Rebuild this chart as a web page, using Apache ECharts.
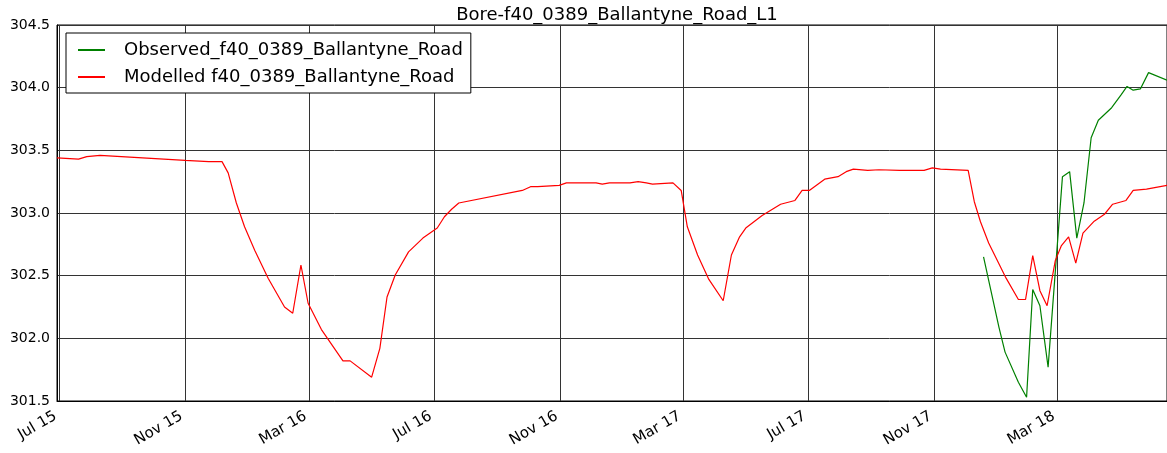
<!DOCTYPE html>
<html><head><meta charset="utf-8">
<script src="https://cdn.jsdelivr.net/npm/echarts@6/dist/echarts.min.js"></script>
<style>html,body{margin:0;padding:0;background:#fff}#c{width:1167px;height:453px}</style>
</head><body><div id="c"></div>
<script>
const chartTitle = 'Bore-f40_0389_Ballantyne_Road_L1';
const observedName = 'Observed_f40_0389_Ballantyne_Road';
const modelledName = 'Modelled f40_0389_Ballantyne_Road';

const modelledDates = [
 '2015-06-29','2015-07-20','2015-07-28','2015-08-10','2015-11-01','2015-11-24','2015-12-07','2015-12-13','2015-12-21','2015-12-29',
 '2016-01-08','2016-01-21','2016-02-06','2016-02-14','2016-02-22','2016-02-29','2016-03-13','2016-04-03','2016-04-10','2016-05-01',
 '2016-05-09','2016-05-16','2016-05-24','2016-06-06','2016-06-20','2016-07-04','2016-07-11','2016-07-18','2016-07-25','2016-09-25',
 '2016-10-03','2016-10-10','2016-10-31','2016-11-07','2016-12-06','2016-12-12','2016-12-19','2017-01-08','2017-01-16','2017-01-24',
 '2017-01-30','2017-02-19','2017-02-27','2017-03-05','2017-03-15','2017-03-26','2017-04-09','2017-04-17','2017-04-25','2017-05-01',
 '2017-05-17','2017-06-04','2017-06-18','2017-06-25','2017-07-02','2017-07-17','2017-07-30','2017-08-07','2017-08-14','2017-08-28',
 '2017-09-08','2017-09-28','2017-10-22','2017-10-30','2017-11-07','2017-12-04','2017-12-10','2017-12-16','2017-12-24','2018-01-10',
 '2018-01-22','2018-01-29','2018-02-05','2018-02-12','2018-02-19','2018-02-27','2018-03-05','2018-03-12','2018-03-19','2018-03-26',
 '2018-04-06','2018-04-16','2018-04-24','2018-05-07','2018-05-14','2018-05-27','2018-06-16'
];
const modelledValues = [
 303.44,303.43,303.45,303.46,303.42,303.41,303.41,303.32,303.08,302.89,
 302.70,302.48,302.25,302.20,302.585,302.28,302.07,301.82,301.82,301.69,
 301.92,302.33,302.505,302.69,302.80,302.88,302.97,303.03,303.08,303.18,
 303.21,303.21,303.22,303.24,303.24,303.23,303.24,303.24,303.25,303.24,
 303.23,303.24,303.18,302.89,302.665,302.47,302.30,302.665,302.81,302.88,
 302.98,303.07,303.10,303.18,303.18,303.27,303.29,303.33,303.35,303.34,
 303.345,303.34,303.34,303.36,303.35,303.34,303.09,302.93,302.76,302.48,
 302.31,302.31,302.66,302.38,302.26,302.62,302.74,302.81,302.60,302.84,
 302.935,302.99,303.07,303.10,303.18,303.19,303.22
];
const observedDates = [
 '2017-12-19','2018-01-03','2018-01-09','2018-01-22','2018-01-30','2018-02-05','2018-02-12','2018-02-20','2018-03-06','2018-03-13',
 '2018-03-20','2018-03-27','2018-04-03','2018-04-10','2018-04-23','2018-05-02','2018-05-08','2018-05-14','2018-05-21','2018-05-29',
 '2018-06-16'
];
const observedValues = [
 302.65,302.09,301.89,301.65,301.53,302.39,302.26,301.77,303.29,303.33,
 302.80,303.08,303.60,303.74,303.84,303.94,304.01,303.98,303.99,304.12,
 304.06
];
const xTickDates = ['2015-07-01','2015-11-01','2016-03-01','2016-07-01','2016-11-01','2017-03-01','2017-07-01','2017-11-01','2018-03-01'];
const monthNames = ['Jan','Feb','Mar','Apr','May','Jun','Jul','Aug','Sep','Oct','Nov','Dec'];
const yMin = 301.5, yMax = 304.5, yStep = 0.5;

function ts(s){ const p = s.split('-').map(Number); return Date.UTC(p[0], p[1]-1, p[2]); }
const xTicks = xTickDates.map(ts);
const pairs = (d, v) => d.map((s, i) => [ts(s), v[i]]);

const font = 'DejaVu Sans';
const chart = echarts.init(document.getElementById('c'), null, {renderer: 'canvas'});
chart.setOption({
  animation: false,
  backgroundColor: '#fff',
  title: {
    text: chartTitle, left: 612, textAlign: 'center', top: 1,
    textStyle: {fontFamily: font, fontSize: 18, fontWeight: 'normal', color: '#000'}
  },
  legend: {
    orient: 'vertical', left: 66, top: 33, padding: [7, 8, 6, 12], itemGap: 7,
    itemWidth: 27, itemHeight: 2, icon: 'rect',
    borderColor: '#000', borderWidth: 1, borderRadius: 0, backgroundColor: '#fff',
    textStyle: {fontFamily: font, fontSize: 18, color: '#000', padding: [0, 0, 0, 14], lineHeight: 20},
    data: [observedName, modelledName]
  },
  grid: {left: 57, right: 0, top: 25, bottom: 52, show: true, borderColor: '#000', borderWidth: 1, containLabel: false, outerBoundsMode: 'none'},
  xAxis: {
    type: 'value', min: 'dataMin', max: 'dataMax', scale: true,
    axisLine: {show: true, lineStyle: {color: '#000', width: 1}},
    axisTick: {show: false, customValues: xTicks},
    splitLine: {show: true, lineStyle: {color: '#333', width: 1}},
    axisLabel: {
      customValues: xTicks, rotate: 30, margin: 12, padding: [0, 4, 0, 0],
      fontFamily: font, fontSize: 15, color: '#000',
      formatter: v => { const d = new Date(v); return monthNames[d.getUTCMonth()] + ' ' + String(d.getUTCFullYear()).slice(2); }
    }
  },
  yAxis: {
    type: 'value', min: yMin, max: yMax, interval: yStep,
    axisLine: {show: true, lineStyle: {color: '#000', width: 1}},
    axisTick: {show: false},
    splitLine: {show: true, lineStyle: {color: '#333', width: 1}},
    axisLabel: {margin: 7, fontFamily: font, fontSize: 14, color: '#000', formatter: v => v.toFixed(1)}
  },
  series: [
    {name: observedName, type: 'line', data: pairs(observedDates, observedValues), symbol: 'none',
     lineStyle: {color: '#008000', width: 1.2}, itemStyle: {color: '#008000'}},
    {name: modelledName, type: 'line', data: pairs(modelledDates, modelledValues), symbol: 'none',
     lineStyle: {color: '#ff0000', width: 1.2}, itemStyle: {color: '#ff0000'}}
  ]
});
</script></body></html>
